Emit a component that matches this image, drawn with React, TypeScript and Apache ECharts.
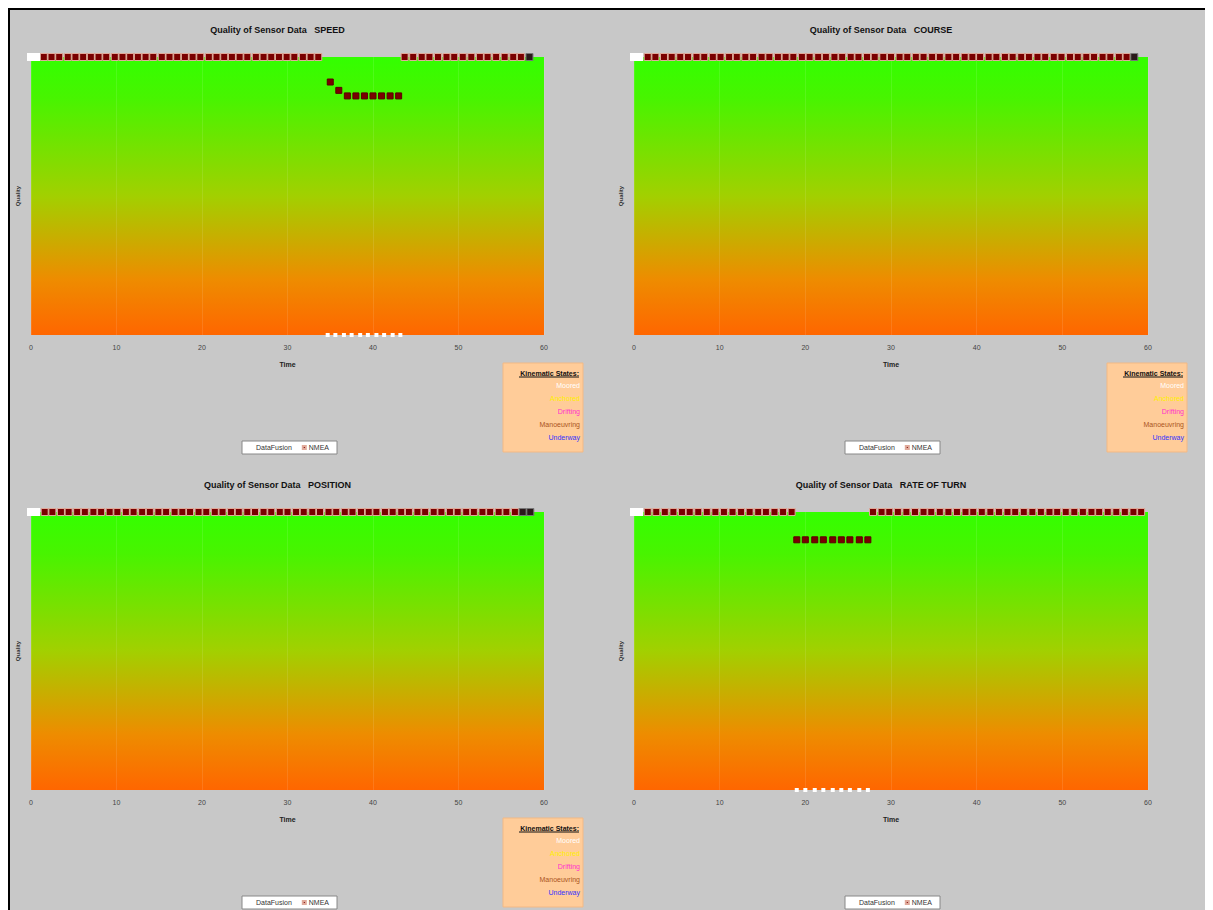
import React, { useEffect, useRef } from "react";
import * as echarts from "echarts";

// ---------- data ----------
const xTicks = [0, 10, 20, 30, 40, 50, 60];
const panelTitles = ["SPEED", "COURSE", "POSITION", "RATE OF TURN"];
const kinematicStates = ["Moored", "Anchored", "Drifting", "Manoeuvring", "Underway"];
const kinematicColors = ["#ffffff", "#ffee00", "#ff33cc", "#aa5522", "#3333ff"];
const legendNames = ["DataFusion", "NMEA"];
const FULL_QUALITY = 100;

// SPEED
const speedTopTimes = [1.5, 2.4, 3.3, 4.3, 5.2, 6.1, 7.0, 7.9, 8.8, 9.8, 10.7, 11.6, 12.5, 13.4, 14.3, 15.3, 16.2, 17.1, 18.0, 18.9, 19.8, 20.8, 21.7, 22.6, 23.5, 24.4, 25.3, 26.3, 27.2, 28.1, 29.0, 29.9, 30.8, 31.8, 32.7, 33.6,
  43.7, 44.7, 45.7, 46.6, 47.6, 48.6, 49.5, 50.5, 51.5, 52.5, 53.4, 54.4, 55.4, 56.4, 57.3];
const speedDip = [[35.0, 91], [36.0, 88], [37.0, 86], [38.0, 86], [39.0, 86], [40.0, 86], [41.0, 86], [42.0, 86], [43.0, 86]];
const speedFusion = [[0, 100], [0.6, 100], [34.7, 0], [35.6, 0], [36.6, 0], [37.5, 0], [38.5, 0], [39.4, 0], [40.4, 0], [41.3, 0], [42.3, 0], [43.2, 0]];
const speedDark = [58.3];

// COURSE
const courseTopTimes = [1.6, 2.5, 3.5, 4.4, 5.4, 6.3, 7.3, 8.2, 9.2, 10.1, 11.1, 12.0, 13.0, 13.9, 14.9, 15.8, 16.8, 17.7, 18.6, 19.6,
  20.5, 21.5, 22.4, 23.4, 24.3, 25.3, 26.2, 27.2, 28.1, 29.1, 30.0, 31.0, 31.9, 32.9, 33.8, 34.8, 35.7, 36.7, 37.6, 38.6,
  39.5, 40.4, 41.4, 42.3, 43.3, 44.2, 45.2, 46.1, 47.1, 48.0, 49.0, 49.9, 50.9, 51.8, 52.8, 53.7, 54.7, 55.6, 56.6, 57.5];
const courseDip: number[][] = [];
const courseFusion = [[0, 100], [0.6, 100]];
const courseDark = [58.4];

// POSITION
const positionTopTimes = [1.6, 2.5, 3.5, 4.4, 5.4, 6.3, 7.3, 8.2, 9.2, 10.1, 11.1, 12.0, 13.0, 13.9, 14.9, 15.8, 16.8, 17.7, 18.6, 19.6,
  20.5, 21.5, 22.4, 23.4, 24.3, 25.3, 26.2, 27.2, 28.1, 29.1, 30.0, 31.0, 31.9, 32.9, 33.8, 34.8, 35.7, 36.7, 37.6, 38.6,
  39.5, 40.4, 41.4, 42.3, 43.3, 44.2, 45.2, 46.1, 47.1, 48.0, 49.0, 49.9, 50.9, 51.8, 52.8, 53.7, 54.7, 55.6, 56.6];
const positionDip: number[][] = [];
const positionFusion = [[0, 100], [0.6, 100]];
const positionDark = [57.5, 58.4];

// RATE OF TURN
const rotTopTimes = [1.6, 2.6, 3.6, 4.6, 5.6, 6.5, 7.5, 8.5, 9.5, 10.5, 11.5, 12.5, 13.5, 14.5, 15.4, 16.4, 17.4, 18.4,
  27.9, 28.9, 29.8, 30.8, 31.8, 32.8, 33.8, 34.7, 35.7, 36.7, 37.7, 38.7, 39.6, 40.6, 41.6, 42.6, 43.6, 44.5, 45.5,
  46.5, 47.5, 48.5, 49.4, 50.4, 51.4, 52.4, 53.4, 54.3, 55.3, 56.3, 57.3, 58.3, 59.2];
const rotDip = [[19.0, 90], [20.0, 90], [21.1, 90], [22.1, 90], [23.2, 90], [24.2, 90], [25.2, 90], [26.3, 90], [27.3, 90]];
const rotFusion = [[0, 100], [0.6, 100], [19.0, 0], [20.0, 0], [21.1, 0], [22.1, 0], [23.2, 0], [24.2, 0], [25.2, 0], [26.3, 0], [27.3, 0]];
const rotDark: number[] = [];

const panelTop = [speedTopTimes, courseTopTimes, positionTopTimes, rotTopTimes];
const panelDip = [speedDip, courseDip, positionDip, rotDip];
const panelFusion = [speedFusion, courseFusion, positionFusion, rotFusion];
const panelDark = [speedDark, courseDark, positionDark, rotDark];
const panelHasStates = [true, true, true, false];

// ---------- layout ----------
const GRIDS = [
  { left: 21, top: 47, width: 513, height: 278 },
  { left: 624, top: 47, width: 514, height: 278 },
  { left: 21, top: 502, width: 513, height: 278 },
  { left: 624, top: 502, width: 514, height: 278 },
];
const FONT = "Liberation Sans, Arial, sans-serif";

function buildOption() {
  const grid: any[] = [];
  const xAxis: any[] = [];
  const yAxis: any[] = [];
  const series: any[] = [];
  const legend: any[] = [];
  const graphic: any[] = [];

  GRIDS.forEach((g, i) => {
    grid.push({
      ...g,
      show: true,
      borderWidth: 0,
      backgroundColor: new echarts.graphic.LinearGradient(0, 0, 0, 1, [
        { offset: 0, color: "#33ff00" },
        { offset: 0.15, color: "#48f400" },
        { offset: 0.5, color: "#a2d000" },
        { offset: 0.8, color: "#ee8c00" },
        { offset: 1, color: "#ff6600" },
      ]),
    });
    xAxis.push({
      gridIndex: i,
      type: "value",
      min: xTicks[0],
      max: xTicks[xTicks.length - 1],
      interval: 10,
      axisLine: { show: false },
      axisTick: { show: false },
      splitLine: { show: true, lineStyle: { color: "rgba(255,255,255,0.1)", width: 1 } },
      axisLabel: { fontSize: 7, color: "#444", margin: 9, fontFamily: FONT },
      name: "Time",
      nameLocation: "middle",
      nameGap: 26,
      nameTextStyle: { fontSize: 7, fontWeight: "bold", color: "#222", fontFamily: FONT },
    });
    yAxis.push({
      gridIndex: i,
      type: "value",
      min: 0,
      max: 100,
      axisLine: { show: false },
      axisTick: { show: false },
      axisLabel: { show: false },
      splitLine: { show: false },
      name: "Quality",
      nameLocation: "middle",
      nameGap: 10,
      nameTextStyle: { fontSize: 6, fontWeight: "bold", color: "#333", fontFamily: FONT },
    });

    const topData = panelTop[i].map((t) => ({
      value: [t, FULL_QUALITY],
    }));
    const darkData = panelDark[i].map((t) => ({
      value: [t, FULL_QUALITY],
      itemStyle: { color: "#2a1a1a", borderColor: "#777" },
    }));
    const dipData = panelDip[i].map((p) => ({
      value: p,
      symbolSize: 6,
      itemStyle: { color: "#7a0000", borderColor: "#5a0000" },
    }));

    series.push({
      name: "NMEA",
      type: "scatter",
      xAxisIndex: i,
      yAxisIndex: i,
      clip: false,
      symbol: "rect",
      symbolSize: 7,
      itemStyle: { color: "#7a0000", borderColor: "#e0aa9a", borderWidth: 1, opacity: 1 },
      data: [...topData, ...dipData, ...darkData],
      z: 3,
    });
    series.push({
      name: "DataFusion",
      type: "scatter",
      xAxisIndex: i,
      yAxisIndex: i,
      clip: false,
      symbol: "rect",
      symbolSize: (v: number[]) => (v[1] > 50 ? 8 : 4),
      itemStyle: { color: "#ffffff", borderWidth: 0, opacity: 1 },
      data: panelFusion[i],
      z: 4,
    });

    const cx = g.left + g.width / 2 - 10;
    graphic.push({
      type: "text",
      x: cx,
      y: g.top - 27,
      style: {
        text: "Quality of Sensor Data   " + panelTitles[i],
        fontSize: 9,
        fontWeight: "bold",
        fill: "#111",
        fontFamily: FONT,
        textAlign: "center",
        textVerticalAlign: "middle",
      },
    });

    legend.push({
      left: g.left + 211,
      top: g.top + 384,
      data: legendNames,
      orient: "horizontal",
      backgroundColor: "#ffffff",
      borderColor: "#888",
      borderWidth: 1,
      padding: [3, 8, 3, 8],
      itemWidth: 3,
      itemHeight: 3,
      itemGap: 10,
      icon: "rect",
      textStyle: { fontSize: 7, color: "#333", fontFamily: FONT, padding: [0, 0, 0, -2] },
      selectedMode: false,
    });

    if (panelHasStates[i]) {
      const bx = g.left + g.width - 41;
      const by = g.top + 306;
      const children: any[] = [
        {
          type: "rect",
          shape: { x: 0, y: 0, width: 80, height: 89 },
          style: { fill: "#ffcc99", stroke: "#f2b985", lineWidth: 1 },
        },
        {
          type: "text",
          x: 76,
          y: 10,
          style: {
            text: "Kinematic States:",
            fontSize: 7,
            fontWeight: "bold",
            fill: "#111",
            fontFamily: FONT,
            textAlign: "right",
            textVerticalAlign: "middle",
          },
        },
        {
          type: "line",
          shape: { x1: 16, y1: 14, x2: 76, y2: 14 },
          style: { stroke: "#111", lineWidth: 1 },
        },
      ];
      kinematicStates.forEach((s, k) => {
        children.push({
          type: "text",
          x: 77,
          y: 22 + k * 13,
          style: {
            text: s,
            fontSize: 7,
            fill: kinematicColors[k],
            fontFamily: FONT,
            textAlign: "right",
            textVerticalAlign: "middle",
          },
        });
      });
      graphic.push({ type: "group", x: bx, y: by, children });
    }
  });

  return {
    animation: false,
    backgroundColor: "#c8c8c8",
    textStyle: { fontFamily: FONT },
    grid,
    xAxis,
    yAxis,
    series,
    legend,
    graphic,
  };
}

export default function App() {
  const ref = useRef<HTMLDivElement>(null);
  useEffect(() => {
    document.documentElement.style.overflow = "hidden";
    document.body.style.overflow = "hidden";
    if (!ref.current) return;
    const chart = echarts.init(ref.current, undefined, { renderer: "svg" });
    chart.setOption(buildOption() as any);
    return () => chart.dispose();
  }, []);
  return (
    <div
      style={{
        borderLeft: "2px solid #000",
        borderTop: "2px solid #000",
        background: "#c8c8c8",
        width: 1203,
        height: 900,
      }}
    >
      <div ref={ref} style={{ width: 1203, height: 900 }} />
    </div>
  );
}
